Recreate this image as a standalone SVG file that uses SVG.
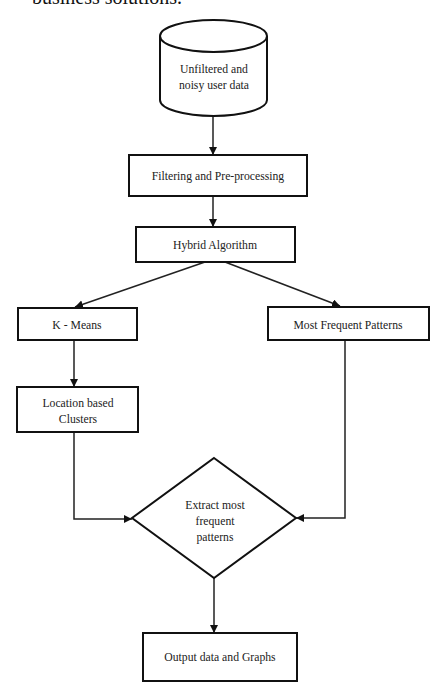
<svg xmlns="http://www.w3.org/2000/svg" width="433" height="687" viewBox="0 0 433 687">
<style>
.n{fill:#fff;stroke:#111;stroke-width:2}
.t{font-family:"Liberation Serif",serif;font-size:11.7px;fill:#222;text-anchor:middle}
.h{font-family:"Liberation Serif",serif;font-size:20px;fill:#111}
.c{fill:none;stroke:#222;stroke-width:1.5}
</style>
<defs>
<marker id="a" markerWidth="10" markerHeight="10" refX="8" refY="4" orient="auto" markerUnits="userSpaceOnUse">
<path d="M0,0 L8,4 L0,8 Z" fill="#111"/>
</marker>
</defs>
<rect width="433" height="687" fill="#fff"/>
<text class="h" x="32" y="4">business solutions.</text>
<g id="connectors">
<line class="c" x1="213" y1="117" x2="213" y2="155" marker-end="url(#a)"/>
<line class="c" x1="213" y1="196" x2="213" y2="227" marker-end="url(#a)"/>
<line class="c" x1="205" y1="262" x2="75" y2="307" marker-end="url(#a)"/>
<line class="c" x1="225" y1="262" x2="340" y2="306" marker-end="url(#a)"/>
<line class="c" x1="74" y1="340" x2="74" y2="387" marker-end="url(#a)"/>
<polyline class="c" points="74,432 74,519 132,519" marker-end="url(#a)"/>
<polyline class="c" points="345,340 345,518 296,518" marker-end="url(#a)"/>
<line class="c" x1="214" y1="578" x2="214" y2="633" marker-end="url(#a)"/>
</g>
<g id="n1">
<path class="n" d="M160,36 L160,100 A53.5,16 0 0 0 267,100 L267,36"/>
<ellipse class="n" cx="213.5" cy="36" rx="53.5" ry="16"/>
<text class="t" x="214" y="73">Unfiltered and</text>
<text class="t" x="214" y="89">noisy user data</text>
</g>
<g id="n2">
<rect class="n" x="129" y="155" width="178" height="41"/>
<text class="t" x="218" y="180">Filtering and Pre-processing</text>
</g>
<g id="n3">
<rect class="n" x="136" y="227" width="159" height="35"/>
<text class="t" x="215" y="249">Hybrid Algorithm</text>
</g>
<g id="n4">
<rect class="n" x="18" y="308" width="119" height="32"/>
<text class="t" x="77" y="329">K - Means</text>
</g>
<g id="n5">
<rect class="n" x="268" y="307" width="161" height="33"/>
<text class="t" x="348" y="329">Most Frequent Patterns</text>
</g>
<g id="n6">
<rect class="n" x="17" y="387" width="121" height="45"/>
<text class="t" x="78" y="407">Location based</text>
<text class="t" x="78" y="423">Clusters</text>
</g>
<g id="n7">
<polygon class="n" points="214,458 296,518 214,578 132,518"/>
<text class="t" x="215" y="509">Extract most</text>
<text class="t" x="215" y="525">frequent</text>
<text class="t" x="215" y="541">patterns</text>
</g>
<g id="n8">
<rect class="n" x="143" y="633" width="154" height="48"/>
<text class="t" x="220" y="661">Output data and Graphs</text>
</g>
</svg>
